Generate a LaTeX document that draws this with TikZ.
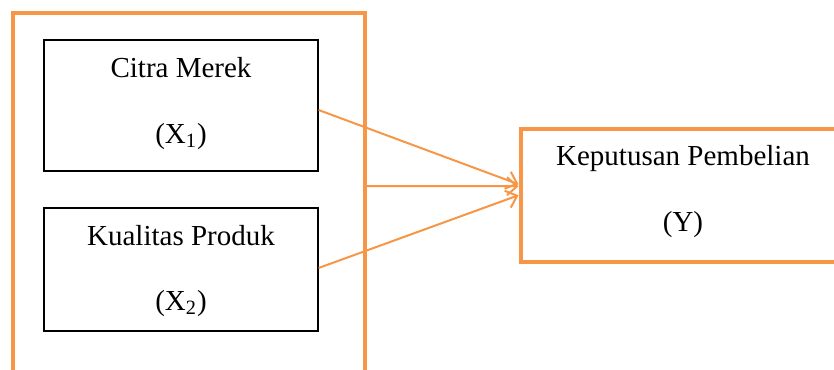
\documentclass[tikz,border=0pt]{standalone}
\usepackage{fontspec}
\setmainfont{Liberation Serif}
\usetikzlibrary{arrows.meta}
\definecolor{accent}{HTML}{F79646}
\tikzset{
  orangebox/.style={draw=accent, line width=2pt, rectangle, inner sep=0pt},
  blackbox/.style={draw=black, line width=0.6pt, rectangle, inner sep=0pt},
  label/.style={anchor=base, inner sep=0pt, font=\fontsize{14.5pt}{17pt}\selectfont},
  conn/.style={draw=accent, line width=1pt, -{Straight Barb[length=5pt,width=9pt,line width=1pt]}}
}
\begin{document}
\begin{tikzpicture}[x=0.5pt,y=-0.5pt]
\useasboundingbox (0,0) rectangle (834,369);
\node[orangebox, minimum width=175.75pt, minimum height=184pt] (outer) at (188.75,197) {};
\node[blackbox, minimum width=137pt, minimum height=65.5pt] (b1) at (181,105.5) {};
\node[blackbox, minimum width=137pt, minimum height=61.5pt] (b2) at (181,269.5) {};
\node[orangebox, minimum width=162.5pt, minimum height=66.75pt] (yb) at (683,195.25) {};
\node[label] (t1) at (181,77) {Citra Merek};
\node[label] (t1b) at (181,143) {(X\textsubscript{1})};
\node[label] (t2) at (181,245) {Kualitas Produk};
\node[label] (t2b) at (181,310) {(X\textsubscript{2})};
\node[label] (t3) at (683,165) {Keputusan Pembelian};
\node[label] (t3b) at (683,231) {(Y)};
\draw[conn] ([yshift=-2.25pt]b1.east) -- ([yshift=5.5pt]yb.west);
\draw[conn] ([yshift=5.5pt]outer.east) -- ([yshift=4.5pt]yb.west);
\draw[conn] ([yshift=0.75pt]b2.east) -- ([yshift=0pt]yb.west);
\end{tikzpicture}
\end{document}
